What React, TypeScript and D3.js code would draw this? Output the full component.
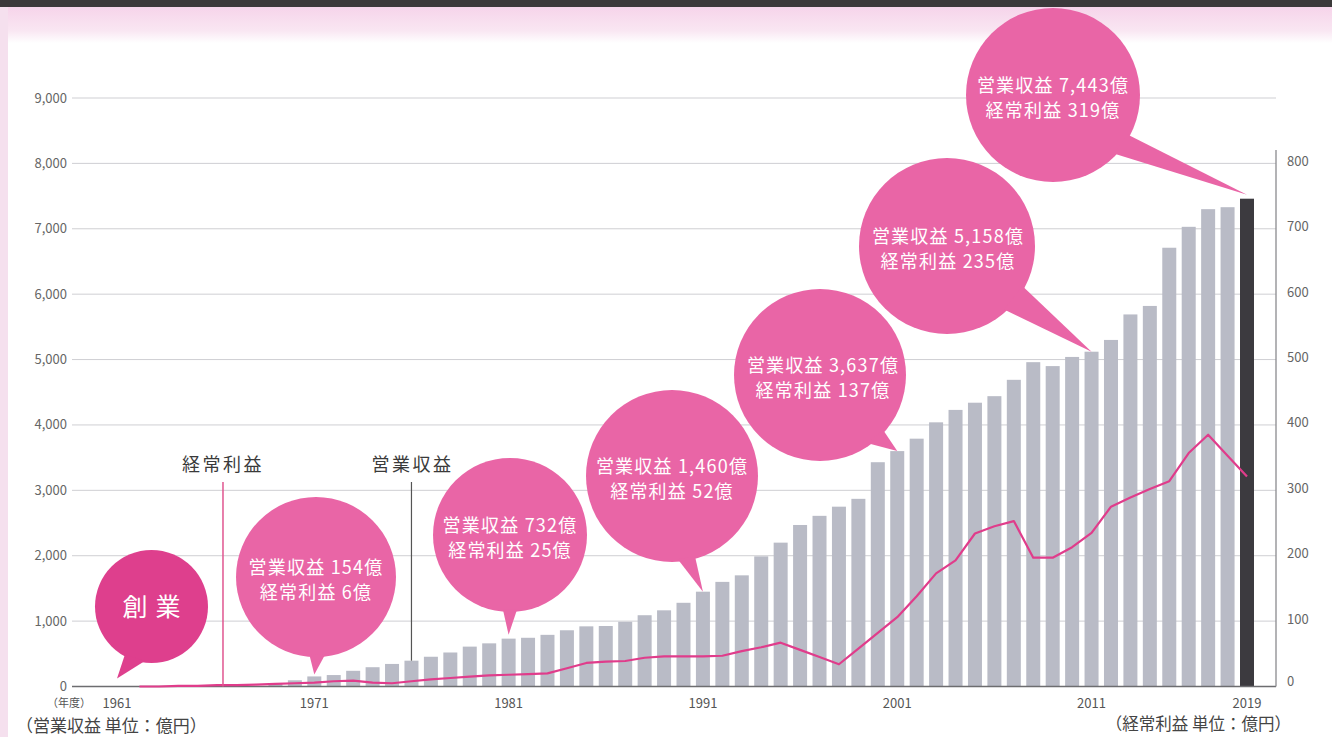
import React from 'react';
import * as d3 from 'd3';

// ---- Data ----
// 営業収益 (bars, 億円), fiscal years 1969–2019
const revenueYears = d3.range(1969, 2020);
const revenue = [
  45, 95, 154, 175, 240, 295, 345, 395, 455, 520,
  610, 660, 732, 745, 790, 860, 920, 925, 990, 1090,
  1165, 1280, 1450, 1600, 1700, 1990, 2200, 2470, 2610, 2750,
  2870, 3430, 3600, 3790, 4040, 4230, 4340, 4440, 4690, 4960,
  4900, 5040, 5120, 5300, 5690, 5820, 6710, 7030, 7300, 7330,
  7460,
];
// 経常利益 (line, 億円), fiscal years 1962–2019
const profitYears = d3.range(1962, 2020);
const profit = [
  0, 0, 1, 1, 2, 2, 3, 4, 5, 6,
  8, 9, 6, 5, 8, 11, 13, 15, 17, 18,
  19, 20, 28, 36, 38, 39, 44, 46, 46, 46,
  47, 54, 60, 67, 56, 45, 34, 58, 82, 106,
  138, 173, 193, 234, 245, 253, 197, 197, 213, 235,
  275, 289, 302, 314, 357, 385, 353, 321,
];

const leftTicks = [0, 1000, 2000, 3000, 4000, 5000, 6000, 7000, 8000, 9000];
const rightTicks = [0, 100, 200, 300, 400, 500, 600, 700, 800];
const xTickYears = [1961, 1971, 1981, 1991, 2001, 2011, 2019];

const bubbleYears = [1961, 1971, 1981, 1991, 2001, 2011, 2019];
const bubbleLine1 = ['創業', '営業収益 154億', '営業収益 732億', '営業収益 1,460億', '営業収益 3,637億', '営業収益 5,158億', '営業収益 7,443億'];
const bubbleLine2 = ['', '経常利益 6億', '経常利益 25億', '経常利益 52億', '経常利益 137億', '経常利益 235億', '経常利益 319億'];

// ---- Layout (pixels) ----
const W = 1332;
const H = 737;
const bubbleLayout = [
  { cx: 151.5, cy: 606.5, r: 56.5, ang: 108, half: 11, gap: 8, dx: -3 },
  { cx: 316, cy: 577, r: 80, ang: 89, half: 6, gap: 2, dx: 0 },
  { cx: 510, cy: 535, r: 77, ang: 90, half: 5.5, gap: 4, dx: 0 },
  { cx: 672, cy: 476, r: 86, ang: 80, half: 6, gap: 0, dx: 0 },
  { cx: 820, cy: 375, r: 86, ang: 48, half: 7, gap: 0, dx: 3 },
  { cx: 947, cy: 246, r: 88, ang: 38, half: 10, gap: 0, dx: 1 },
  { cx: 1053, cy: 95, r: 87, ang: 36, half: 8, gap: 4, dx: 0 },
];

const FONT = "'Noto Sans CJK JP', 'Noto Sans', sans-serif";
const BAR = '#b9bbc6';
const BAR_LAST = '#3c3a3f';
const PINK_LINE = '#e03c8b';
const BUBBLE = '#e965a6';
const BUBBLE_DARK = '#de3f8d';

export default function App() {
  const x = d3.scaleLinear().domain([1961, 2019]).range([120, 1247]);
  const y = d3.scaleLinear().domain([0, 9000]).range([686.5, 98]);
  const yR = d3.scaleLinear().domain([0, 900]).range([686.5, 98]);
  const barW = 14;
  const gridX0 = 72;
  const gridX1 = 1276;

  const revByYear = new Map(revenueYears.map((yr, i) => [yr, revenue[i]]));

  const linePath = d3
    .line<number>()
    .x((_, i) => x(profitYears[i]))
    .y((d) => yR(d))(profit) as string;

  const bubblePaths = bubbleLayout.map((b, i) => {
    const yr = bubbleYears[i];
    const tipX = i === 0 ? x(yr) - 3 : x(yr);
    const tipY = (revByYear.has(yr) ? y(revByYear.get(yr) as number) : y(0)) - b.gap;
    const a1 = ((b.ang - b.half) * Math.PI) / 180;
    const a2 = ((b.ang + b.half) * Math.PI) / 180;
    const p1 = [b.cx + b.r * 0.97 * Math.cos(a1), b.cy + b.r * 0.97 * Math.sin(a1)];
    const p2 = [b.cx + b.r * 0.97 * Math.cos(a2), b.cy + b.r * 0.97 * Math.sin(a2)];
    return `M${p1[0]},${p1[1]}L${tipX},${tipY}L${p2[0]},${p2[1]}Z`;
  });

  return (
    <svg
      width={W}
      height={H}
      style={{ position: 'absolute', left: 0, top: 0, background: '#fff' }}
      fontFamily={FONT}
    >
      <defs>
        <linearGradient id="hdr" x1="0" y1="0" x2="0" y2="1">
          <stop offset="0" stopColor="#f6d4ea" />
          <stop offset="0.65" stopColor="#f9e6f2" />
          <stop offset="1" stopColor="#ffffff" />
        </linearGradient>
      </defs>
      {/* Header bands */}
      <rect x={0} y={7} width={W} height={36} fill="url(#hdr)" />
      <rect x={0} y={0} width={W} height={7} fill="#3b393a" />
      <rect x={0} y={7} width={8} height={H - 7} fill="#f5e0ee" />

      {/* Gridlines */}
      {leftTicks.slice(1).map((t) => (
        <line key={t} x1={gridX0} x2={gridX1} y1={y(t)} y2={y(t)} stroke="#cfcfd3" strokeWidth={1} />
      ))}
      {/* Left tick labels */}
      {leftTicks.map((t) => (
        <text key={t} x={67} y={y(t)} dy="0.35em" textAnchor="end" fontSize={13} fill="#666">
          {d3.format(',')(t)}
        </text>
      ))}

      {/* Bars */}
      {revenue.map((v, i) => (
        <rect
          key={revenueYears[i]}
          x={x(revenueYears[i]) - barW / 2}
          y={y(v)}
          width={barW}
          height={y(0) - y(v)}
          fill={i === revenue.length - 1 ? BAR_LAST : BAR}
        />
      ))}

      {/* Baseline */}
      <line x1={gridX0} x2={gridX1} y1={y(0)} y2={y(0)} stroke="#6d6d70" strokeWidth={1.5} />
      {/* Right axis */}
      <line x1={gridX1} x2={gridX1} y1={150} y2={y(0)} stroke="#8a8a8e" strokeWidth={1.3} />
      {rightTicks.map((t) => (
        <text key={t} x={1287} y={yR(t) - (t === 0 ? 5 : 2)} dy="0.35em" fontSize={13} fill="#666">
          {t}
        </text>
      ))}

      {/* Profit line */}
      <path d={linePath} fill="none" stroke={PINK_LINE} strokeWidth={2.2} strokeLinejoin="round" />

      {/* Series markers */}
      <line x1={x(1966.3)} x2={x(1966.3)} y1={482} y2={y(0)} stroke="#e0558f" strokeWidth={1.5} />
      <text x={x(1966.3)} y={465} dy="0.35em" textAnchor="middle" fontSize={18} fill="#3a3a3a" letterSpacing={2.5}>
        経常利益
      </text>
      <line x1={x(1976)} x2={x(1976)} y1={482} y2={y(revByYear.get(1976) as number)} stroke="#555" strokeWidth={1.2} />
      <text x={x(1976) + 1} y={465} dy="0.35em" textAnchor="middle" fontSize={18} fill="#3a3a3a" letterSpacing={2.5}>
        営業収益
      </text>

      {/* X axis labels */}
      {xTickYears.map((yr) => (
        <text key={yr} x={x(yr) - (yr === 1961 ? 3 : 0)} y={703} dy="0.35em" textAnchor="middle" fontSize={13} fill="#555">
          {yr}
        </text>
      ))}
      <text x={69} y={703} dy="0.35em" textAnchor="middle" fontSize={11} fill="#555">
        （年度）
      </text>
      <text x={16} y={726} dy="0.35em" fontSize={17} fill="#444">
        （営業収益 単位：億円）
      </text>
      <text x={1291} y={724} dy="0.35em" textAnchor="end" fontSize={16.5} fill="#444">
        （経常利益 単位：億円）
      </text>

      {/* Bubbles */}
      {bubbleLayout.map((b, i) => (
        <g key={i}>
          <circle cx={b.cx} cy={b.cy} r={b.r} fill={i === 0 ? BUBBLE_DARK : BUBBLE} />
          <path d={bubblePaths[i]} fill={i === 0 ? BUBBLE_DARK : BUBBLE} />
          {i === 0 ? (
            <text x={b.cx + 4} y={b.cy + 1} dy="0.35em" textAnchor="middle" fontSize={25} fill="#fff" letterSpacing={8}>
              {bubbleLine1[i]}
            </text>
          ) : (
            <>
              <text x={b.cx + b.dx} y={b.cy - 9.5} dy="0.35em" textAnchor="middle" fontSize={18} fill="#fff" letterSpacing={1.2}>
                {bubbleLine1[i]}
              </text>
              <text x={b.cx + b.dx} y={b.cy + 16} dy="0.35em" textAnchor="middle" fontSize={18} fill="#fff" letterSpacing={1.2}>
                {bubbleLine2[i]}
              </text>
            </>
          )}
        </g>
      ))}
    </svg>
  );
}
